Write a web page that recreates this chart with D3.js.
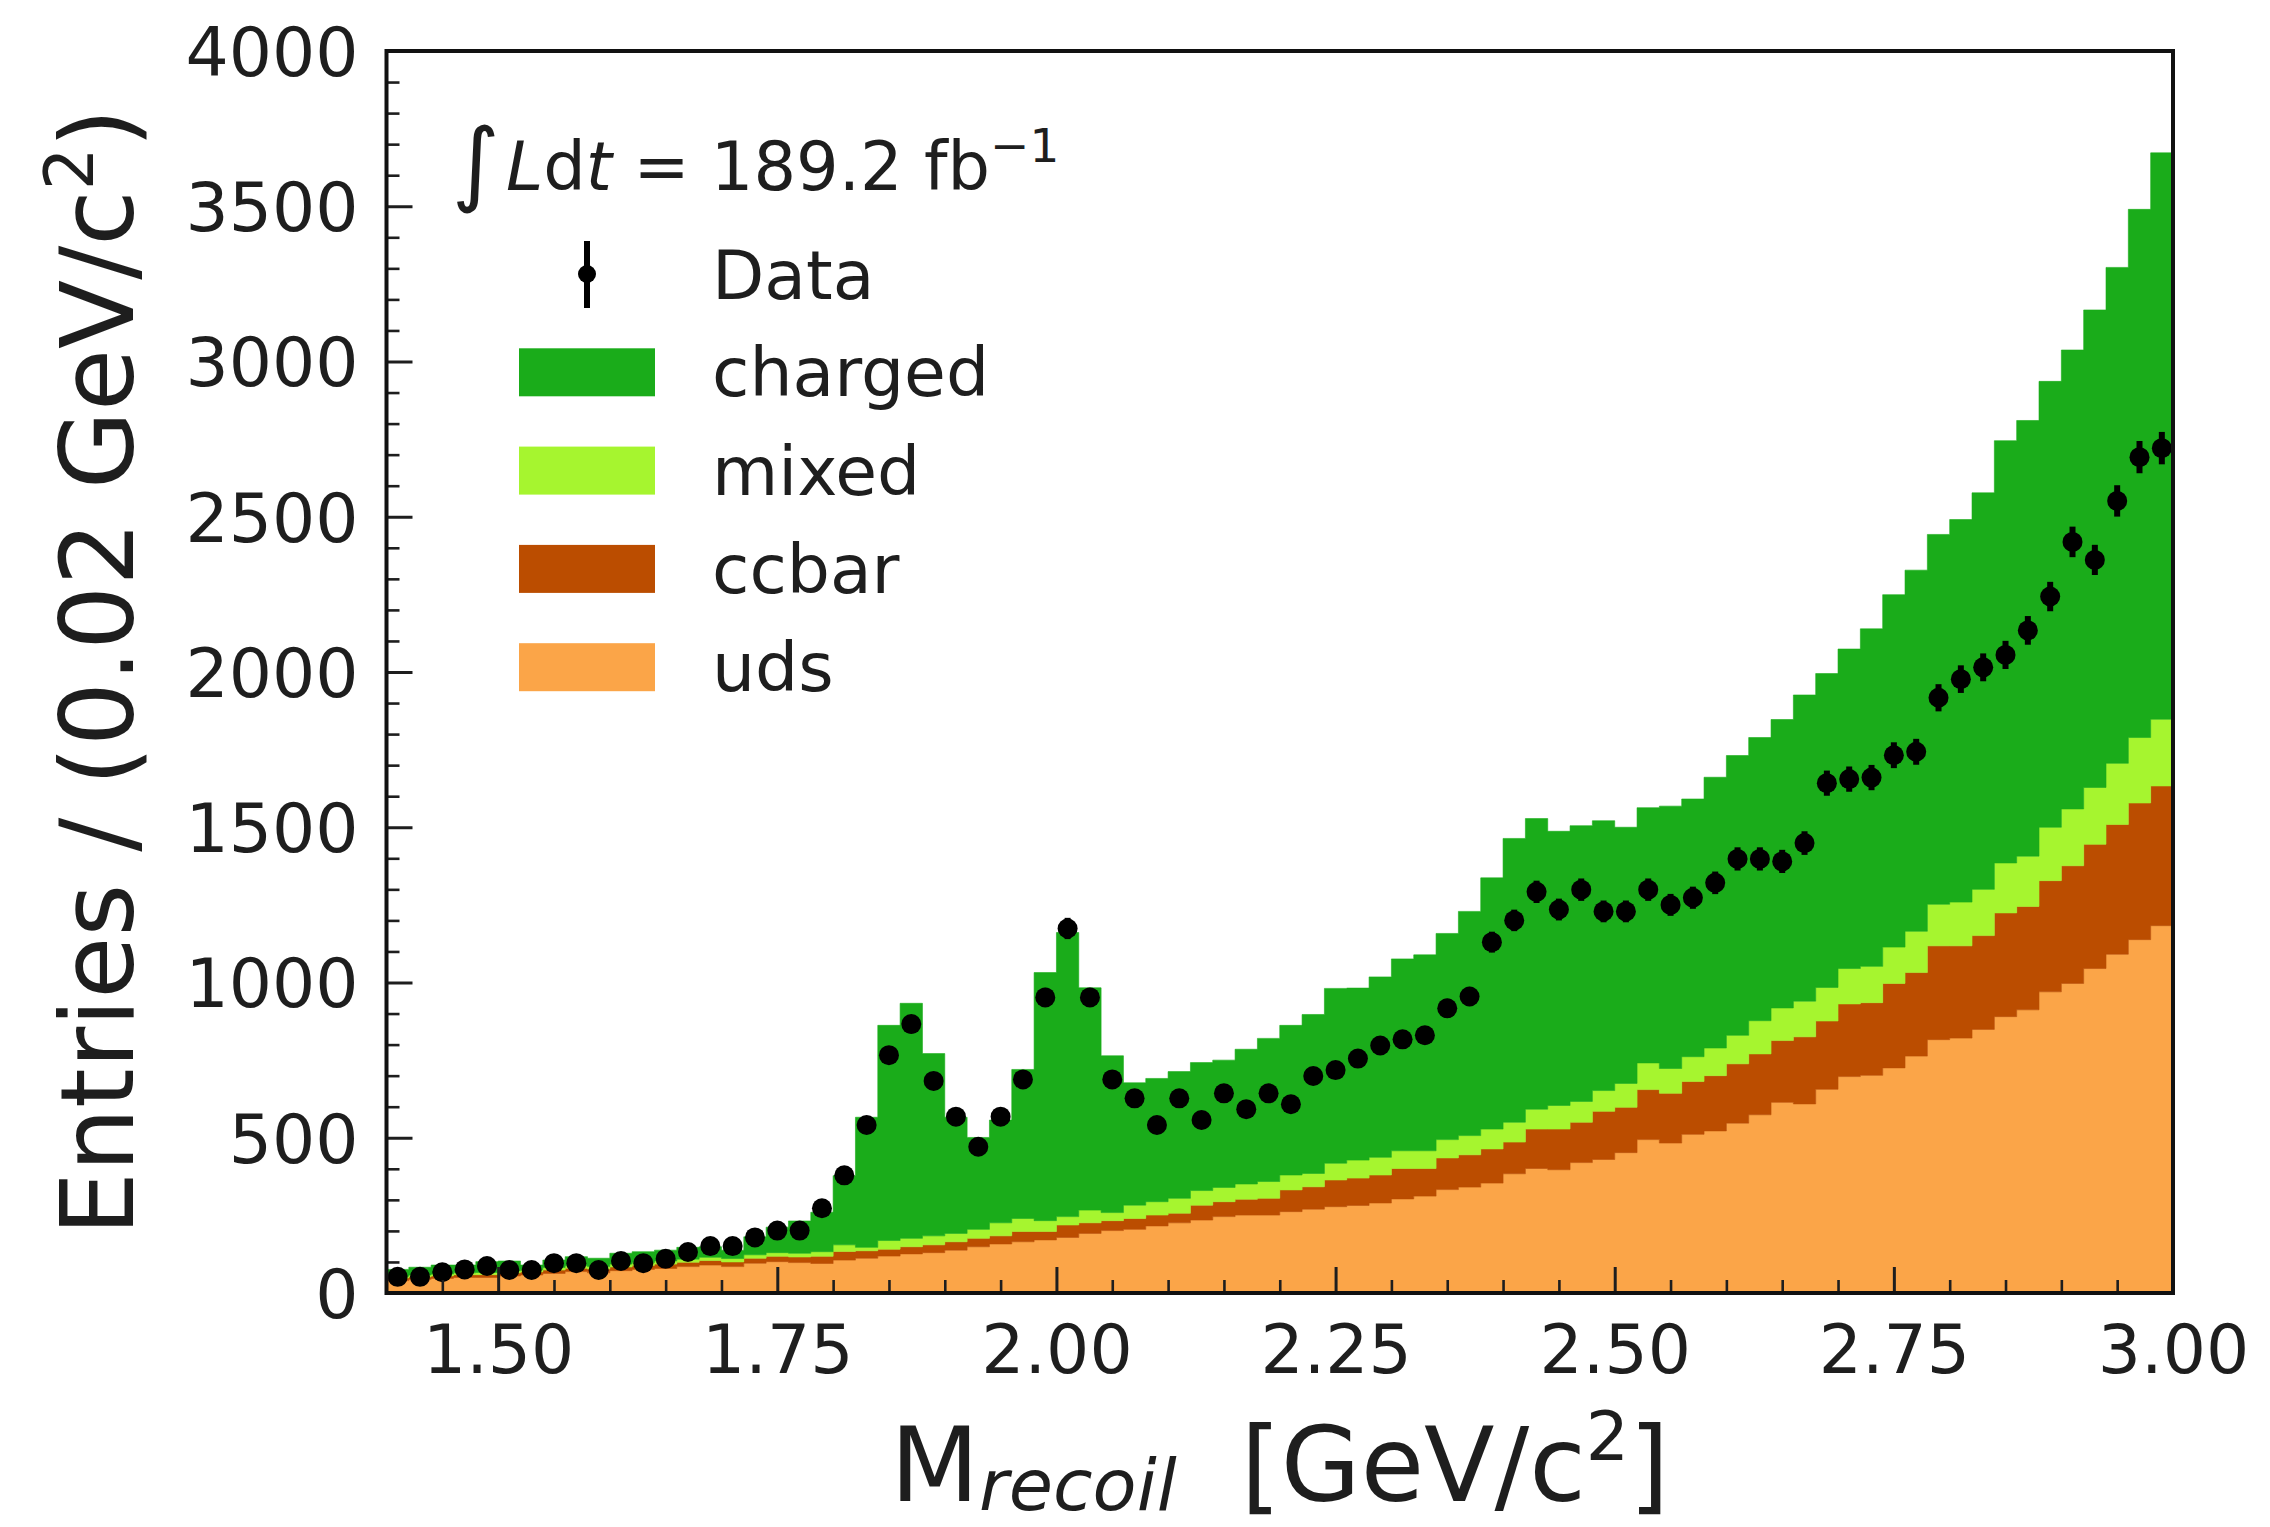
<!DOCTYPE html>
<html>
<head>
<meta charset="utf-8">
<script src="https://cdn.jsdelivr.net/npm/d3@7"></script>
<style>
  body { margin: 0; background: #ffffff; }
  svg { display: block; }
  text { font-family: "DejaVu Sans", sans-serif; fill: #1e1e1e; }
</style>
</head>
<body>
<svg id="chart" width="2270" height="1527"></svg>
<script>
// Binning: 80 bins of 0.02 GeV/c^2 from 1.40 to 3.00
const binStart = 1.40, binWidth = 0.02, nBins = 80;
const binEdges = d3.range(nBins + 1).map(i => +(binStart + binWidth * i).toFixed(2));

// Stacked MC components (entries per bin), bottom to top
const uds = [40,44,47,50,50,55,58,63,69,65,72,76,79,85,90,85,96,101,98,95,
  106,112,119,126,130,138,149,158,165,171,179,192,201,205,216,226,235,246,251,251,
  262,270,278,282,290,303,312,333,341,354,384,401,397,420,430,452,494,483,511,522,
  547,574,614,609,656,697,701,725,763,816,821,849,890,912,970,997,1045,1091,1138,1183];
const ccbar = [8,8,8,9,9,10,10,11,11,12,12,13,14,14,15,15,16,17,18,23,
  28,24,22,23,25,27,27,26,33,27,40,34,32,35,35,31,48,48,51,54,
  70,72,86,88,90,98,89,102,104,110,102,127,131,130,155,146,161,160,170,178,
  191,196,199,216,220,234,234,272,269,302,297,302,334,333,358,379,400,418,440,450];
const mixed = [6,6,6,6,7,7,7,8,8,8,9,9,10,10,10,11,11,12,12,15,
  21,11,28,27,29,27,29,42,42,35,27,41,26,43,43,48,47,46,49,54,
  48,43,54,58,57,57,57,59,62,64,64,64,76,67,67,77,86,80,80,89,
  92,107,105,115,108,114,117,117,133,134,141,149,161,162,172,183,183,197,211,215];
const charged = [22,25,29,25,35,31,15,24,29,27,35,35,35,38,34,27,58,82,104,127,
  223,419,693,757,587,374,296,331,480,799,915,716,505,394,397,408,412,410,434,461,
  482,512,563,554,581,618,631,664,722,809,914,936,883,888,869,825,822,845,830,872,
  901,912,929,986,1011,1029,1087,1135,1163,1191,1232,1277,1360,1403,1436,1478,1538,1597,1701,1824];

// Observed counts per bin
const dataCounts = [52,52,67,76,87,74,74,96,96,74,103,96,110,132,151,151,179,201,201,273,
  379,541,766,866,683,568,471,568,688,952,1174,952,688,627,541,627,557,643,592,643,
  608,699,718,755,797,817,830,917,955,1130,1200,1292,1235,1299,1229,1229,1299,1250,1273,1321,
  1398,1398,1390,1449,1642,1655,1660,1732,1743,1917,1977,2015,2055,2134,2243,2419,2361,2551,2692,2721];

const componentKeys = ["uds", "ccbar", "mixed", "charged"];
const componentColors = { uds: "#fba548", ccbar: "#bb4d00", mixed: "#a6f52f", charged: "#1aac1a" };
const legendOrder = ["charged", "mixed", "ccbar", "uds"];

const xMajorTicks = [1.50, 1.75, 2.00, 2.25, 2.50, 2.75, 3.00];
const xMinorTicks = [1.45,1.55,1.60,1.65,1.70,1.80,1.85,1.90,1.95,2.05,2.10,2.15,2.20,2.30,2.35,2.40,2.45,2.55,2.60,2.65,2.70,2.80,2.85,2.90,2.95];
const yMajorTicks = [0, 500, 1000, 1500, 2000, 2500, 3000, 3500, 4000];
const yMinorTicks = d3.range(0, 4001, 100).filter(v => v % 500 !== 0);

// Layout
const plot = { left: 386.5, right: 2173, top: 51, bottom: 1293 };
const svg = d3.select("#chart");

const x = d3.scaleLinear().domain([1.40, 3.00]).range([plot.left, plot.right]);
const y = d3.scaleLinear().domain([0, 4000]).range([plot.bottom, plot.top]);

// Stacked histogram
const rows = d3.range(nBins).map(i => ({
  uds: uds[i], ccbar: ccbar[i], mixed: mixed[i], charged: charged[i]
}));
const stacked = d3.stack().keys(componentKeys)(rows);

const area = d3.area()
  .curve(d3.curveStepAfter)
  .x(d => x(d.x))
  .y0(d => y(d.y0))
  .y1(d => y(d.y1));

const histG = svg.append("g");
stacked.forEach(layer => {
  const pts = layer.map((d, i) => ({ x: binEdges[i], y0: d[0], y1: d[1] }));
  const last = layer[layer.length - 1];
  pts.push({ x: binEdges[nBins], y0: last[0], y1: last[1] });
  histG.append("path")
    .attr("d", area(pts))
    .attr("fill", componentColors[layer.key])
    .attr("stroke", componentColors[layer.key])
    .attr("stroke-width", 0.6);
});

// Data points with Poisson error bars
const centers = d3.range(nBins).map(i => binStart + binWidth * (i + 0.5));
const dataG = svg.append("g");
dataCounts.forEach((n, i) => {
  const e = Math.sqrt(n);
  dataG.append("line")
    .attr("x1", x(centers[i])).attr("x2", x(centers[i]))
    .attr("y1", y(n - e)).attr("y2", y(n + e))
    .attr("stroke", "#000").attr("stroke-width", 6);
  dataG.append("circle")
    .attr("cx", x(centers[i])).attr("cy", y(n)).attr("r", 10)
    .attr("fill", "#000");
});

// Axes with inward ticks
const fontSize = 68;
const xAxisG = svg.append("g").attr("transform", `translate(0,${plot.bottom})`);
xAxisG.call(d3.axisBottom(x).tickValues(xMinorTicks).tickSize(-13).tickFormat(""));
xAxisG.selectAll(".tick line").attr("stroke", "#1e1e1e").attr("stroke-width", 2.6);
const xMajG = svg.append("g").attr("transform", `translate(0,${plot.bottom})`);
xMajG.call(d3.axisBottom(x).tickValues(xMajorTicks).tickSize(-26).tickPadding(32).tickFormat(d3.format(".2f")));
xMajG.selectAll(".tick line").attr("stroke", "#1e1e1e").attr("stroke-width", 3);
xMajG.selectAll(".tick text").attr("font-size", fontSize).attr("font-family", "DejaVu Sans").attr("fill", "#1e1e1e");

const yAxisG = svg.append("g").attr("transform", `translate(${plot.left},0)`);
yAxisG.call(d3.axisLeft(y).tickValues(yMinorTicks).tickSize(-13).tickFormat(""));
yAxisG.selectAll(".tick line").attr("stroke", "#1e1e1e").attr("stroke-width", 2.6);
const yMajG = svg.append("g").attr("transform", `translate(${plot.left},0)`);
yMajG.call(d3.axisLeft(y).tickValues(yMajorTicks).tickSize(-26).tickPadding(28).tickFormat(d3.format("d")));
yMajG.selectAll(".tick line").attr("stroke", "#1e1e1e").attr("stroke-width", 3);
yMajG.selectAll(".tick text").attr("font-size", fontSize).attr("font-family", "DejaVu Sans").attr("fill", "#1e1e1e").attr("dy", "0.36em");

svg.selectAll(".domain").remove();

// Frame
svg.append("rect")
  .attr("x", plot.left).attr("y", plot.top)
  .attr("width", plot.right - plot.left).attr("height", plot.bottom - plot.top)
  .attr("fill", "none").attr("stroke", "#111").attr("stroke-width", 4);

// Axis titles
const xTitle = svg.append("text")
  .attr("x", (plot.left + plot.right) / 2).attr("y", 1501)
  .attr("text-anchor", "middle").attr("font-size", 103);
xTitle.append("tspan").text("M");
xTitle.append("tspan").attr("font-size", 72).attr("font-style", "italic").attr("dy", 9).text("recoil");
xTitle.append("tspan").attr("dy", -9).attr("dx", 64).text("[GeV/c");
xTitle.append("tspan").attr("font-size", 68).attr("dy", -41).text("2");
xTitle.append("tspan").attr("dy", 41).text("]");

const yTitle = svg.append("text")
  .attr("transform", `translate(133,${(plot.top + plot.bottom) / 2}) rotate(-90)`)
  .attr("text-anchor", "middle").attr("font-size", 101);
yTitle.append("tspan").text("Entries / (0.02 GeV/c");
yTitle.append("tspan").attr("font-size", 67).attr("dy", -40).text("2");
yTitle.append("tspan").attr("dy", 40).text(")");

// Luminosity annotation
const lumi = svg.append("text")
  .attr("x", 452).attr("y", 190).attr("font-size", 67)
  .style("white-space", "pre");
lumi.append("tspan").attr("font-size", 92).attr("dy", 4).text("\u222B");
lumi.append("tspan").attr("font-style", "italic").attr("dx", 6).attr("dy", -4).text("L");
lumi.append("tspan").text("d");
lumi.append("tspan").attr("font-style", "italic").text("t");
lumi.append("tspan").text(" = 189.2 fb");
lumi.append("tspan").attr("font-size", 47).attr("dy", -28).text("\u22121");

// Legend
const legX = 519, legW = 136, legH = 48, textX = 712, rowStep = 98.3;
const dataRowY = 274;
svg.append("line")
  .attr("x1", legX + legW / 2).attr("x2", legX + legW / 2)
  .attr("y1", dataRowY - 33).attr("y2", dataRowY + 34)
  .attr("stroke", "#000").attr("stroke-width", 6);
svg.append("circle").attr("cx", legX + legW / 2).attr("cy", dataRowY).attr("r", 9).attr("fill", "#000");
svg.append("text").attr("x", textX).attr("y", dataRowY + 25).attr("font-size", 68).text("Data");

legendOrder.forEach((key, k) => {
  const cy = dataRowY + rowStep * (k + 1);
  svg.append("rect")
    .attr("x", legX).attr("y", cy - legH / 2).attr("width", legW).attr("height", legH)
    .attr("fill", componentColors[key]);
  svg.append("text").attr("x", textX).attr("y", cy + 24).attr("font-size", 68).text(key);
});
</script>
</body>
</html>
